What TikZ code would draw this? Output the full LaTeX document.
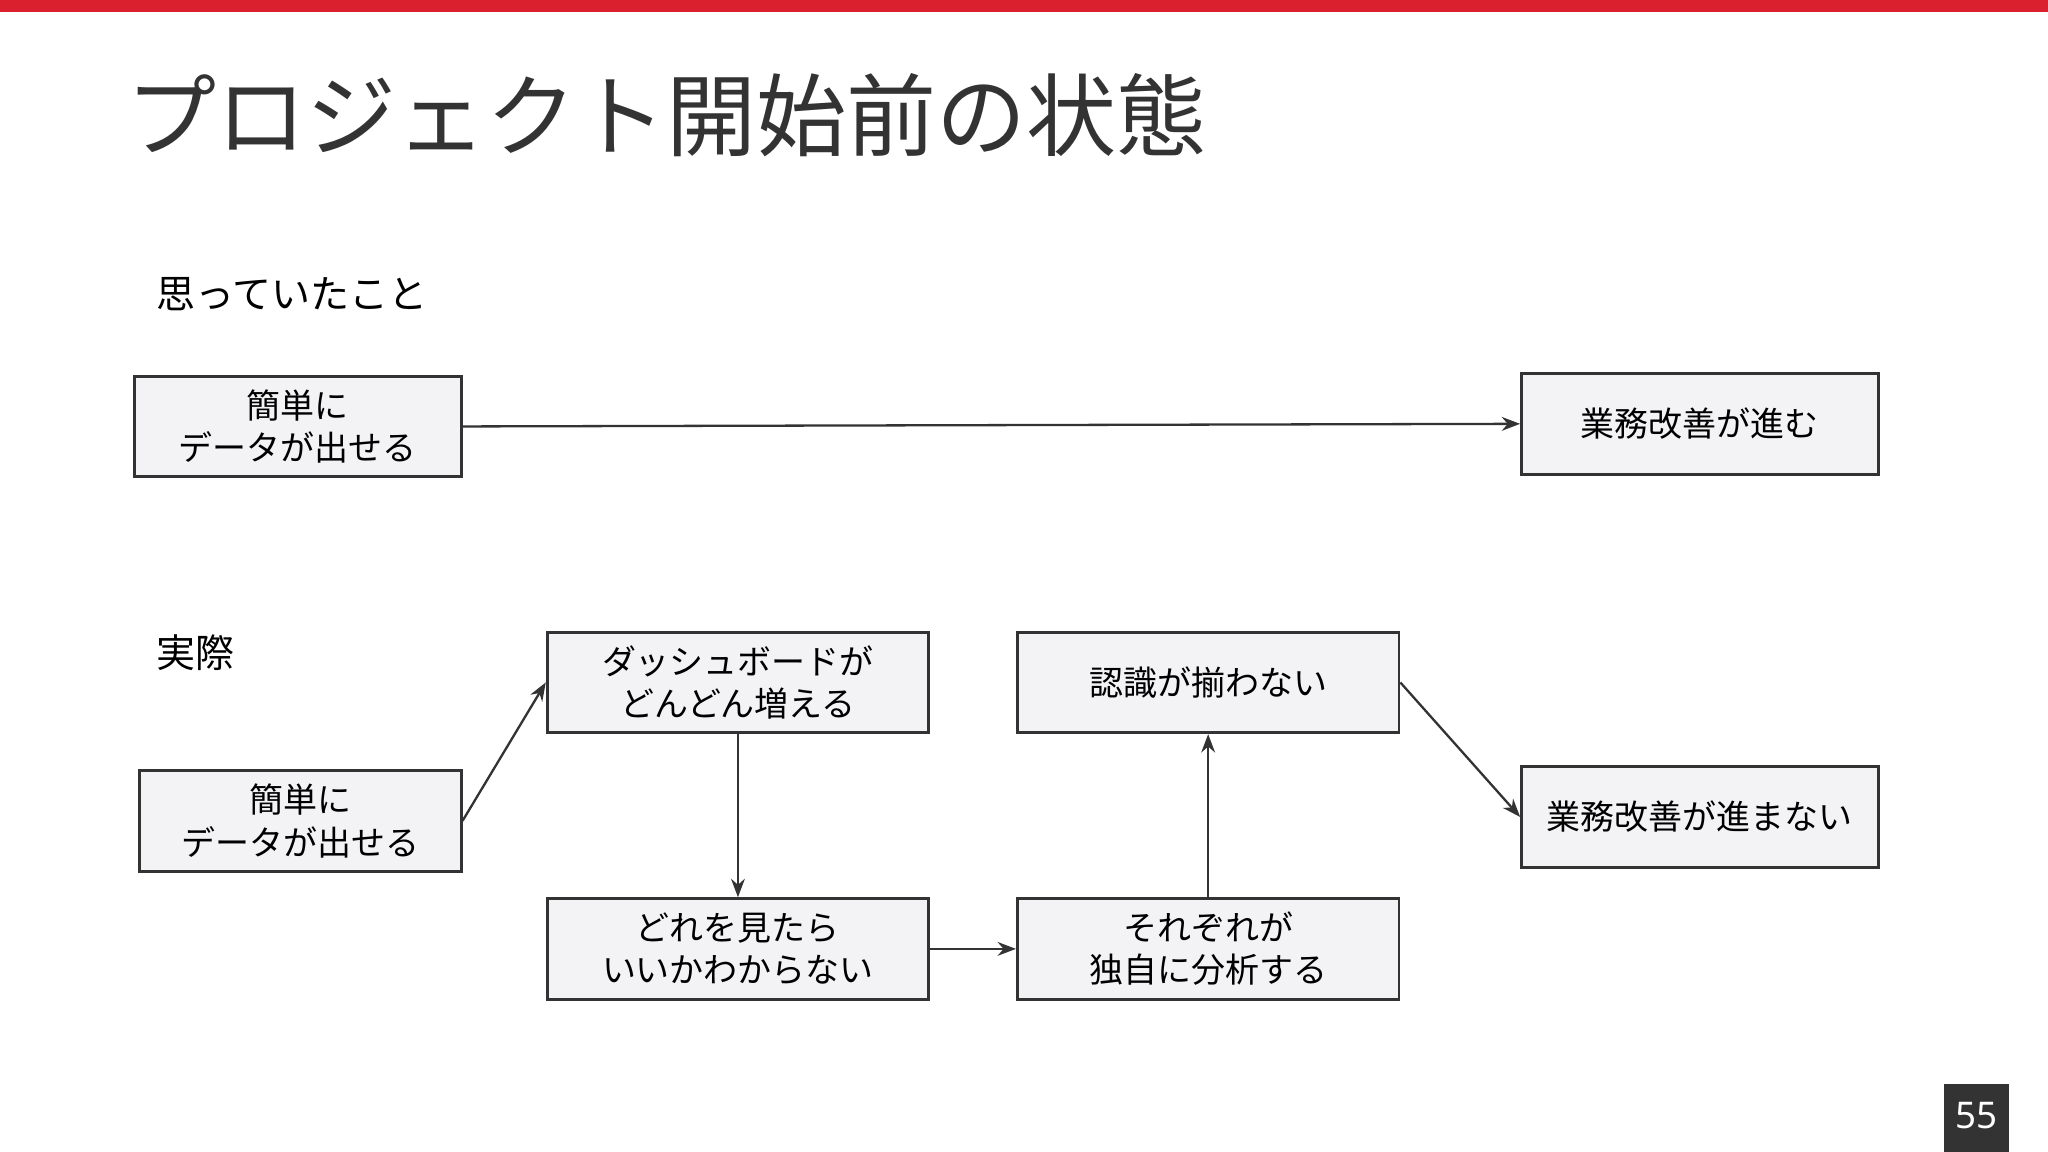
\documentclass[tikz,border=0pt]{standalone}
\usepackage{fontspec}
\setmainfont{Noto Sans CJK JP}
\newfontfamily\numfont{Noto Sans}
\usetikzlibrary{arrows.meta}
\definecolor{redbar}{HTML}{DA1F2E}
\definecolor{boxfill}{HTML}{F3F2F5}
\definecolor{ink}{HTML}{333333}
\begin{document}
\begin{tikzpicture}[x=0.01cm,y=-0.01cm,
  box/.style={draw=ink,fill=boxfill,line width=0.6pt,minimum height=0.77cm,align=center,font=\fontsize{7.4pt}{9.2pt}\selectfont,text=black,inner sep=0pt},
  arr/.style={draw=ink,line width=0.5pt,-{Stealth[length=4pt,width=3pt]}}]
\useasboundingbox (0,0) rectangle (1568,882);
\fill[white] (0,0) rectangle (1568,882);
\fill[redbar] (0,0) rectangle (1568,9);
\node[anchor=west,font=\fontsize{19.6pt}{22pt}\selectfont,text=ink,inner sep=0pt] (title) at (96,88) {プロジェクト開始前の状態};
\node[anchor=west,font=\fontsize{8.5pt}{10pt}\selectfont,inner sep=0pt] (l1) at (119,225) {思っていたこと};
\node[anchor=west,font=\fontsize{8.5pt}{10pt}\selectfont,inner sep=0pt] (l2) at (119,500) {実際};
\node[box,minimum width=2.50cm] (a1) at (228,326.5) {簡単に\\データが出せる};
\node[box,minimum width=2.73cm] (b1) at (1301.5,324.5) {業務改善が進む};
\node[box,minimum width=2.46cm] (a2) at (230,628.5) {簡単に\\データが出せる};
\node[box,minimum width=2.92cm] (d) at (565,522.5) {ダッシュボードが\\どんどん増える};
\node[box,minimum width=2.92cm] (w) at (565,726.5) {どれを見たら\\いいかわからない};
\node[box,minimum width=2.92cm] (s) at (925,726.5) {それぞれが\\独自に分析する};
\node[box,minimum width=2.92cm] (n) at (925,522.5) {認識が揃わない};
\node[box,minimum width=2.73cm] (g) at (1301.5,625.5) {業務改善が進まない};
\draw[arr] (a1.east) -- (b1.west);
\draw[arr] (a2.east) -- (d.west);
\draw[arr] (d.south) -- (w.north);
\draw[arr] (w.east) -- (s.west);
\draw[arr] (s.north) -- (n.south);
\draw[arr] (n.east) -- (g.west);
\fill[ink] (1488,830) rectangle (1538,882);
\node[font=\numfont\fontsize{8pt}{9pt}\selectfont,text=white] (pg) at (1513,854) {55};
\end{tikzpicture}
\end{document}
